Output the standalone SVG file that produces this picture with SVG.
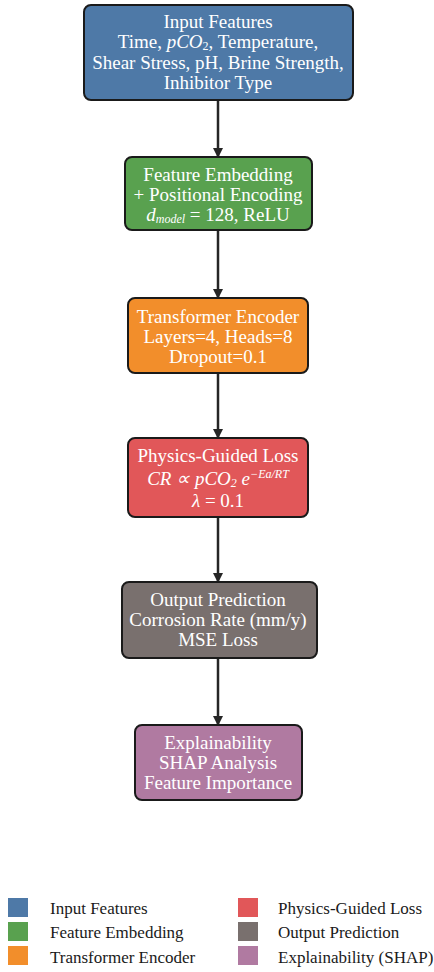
<svg xmlns="http://www.w3.org/2000/svg" width="434" height="972" viewBox="0 0 434 972">
<style>
.box{stroke:#1a1a1a;stroke-width:2}
.t{font-family:"Liberation Serif","Times New Roman",serif;font-size:19px;fill:#ffffff;text-anchor:middle}
.i{font-style:italic}
.lg{font-family:"Liberation Serif","Times New Roman",serif;font-size:17px;fill:#1a1a1a}
.conn{stroke:#262626;stroke-width:2.5;fill:none}
</style>
<defs>
<marker id="ah" viewBox="0 0 10 10" refX="9" refY="5" markerWidth="4" markerHeight="4" orient="auto" markerUnits="strokeWidth">
<path d="M0,0 L10,5 L0,10 Z" fill="#262626"/>
</marker>
</defs>
<rect width="434" height="972" fill="#ffffff"/>
<g id="connectors">
<line class="conn" x1="218" y1="100" x2="218" y2="157" marker-end="url(#ah)"/>
<line class="conn" x1="218" y1="230" x2="218" y2="298" marker-end="url(#ah)"/>
<line class="conn" x1="218" y1="373" x2="218" y2="438" marker-end="url(#ah)"/>
<line class="conn" x1="218" y1="517" x2="218" y2="582" marker-end="url(#ah)"/>
<line class="conn" x1="218" y1="658" x2="218" y2="725" marker-end="url(#ah)"/>
</g>
<g id="input">
<rect class="box" x="84" y="5" width="269" height="95" rx="7" fill="#4e79a7"/>
<text class="t" x="218" y="28">Input Features</text>
<text class="t" x="218" y="48">Time, <tspan class="i">pCO</tspan><tspan font-size="12" dy="2">2</tspan><tspan dy="-2">, Temperature,</tspan></text>
<text class="t" x="218" y="69">Shear Stress, pH, Brine Strength,</text>
<text class="t" x="218" y="89">Inhibitor Type</text>
</g>
<g id="embedding">
<rect class="box" x="125" y="157" width="187" height="73" rx="7" fill="#59a14f"/>
<text class="t" x="218" y="181">Feature Embedding</text>
<text class="t" x="218" y="201">+ Positional Encoding</text>
<text class="t" x="218" y="221"><tspan class="i">d</tspan><tspan class="i" font-size="12" dy="2">model</tspan><tspan dy="-2"> = 128, ReLU</tspan></text>
</g>
<g id="transformer">
<rect class="box" x="128" y="298" width="180" height="75" rx="7" fill="#f28e2b"/>
<text class="t" x="218" y="323">Transformer Encoder</text>
<text class="t" x="218" y="343">Layers=4, Heads=8</text>
<text class="t" x="218" y="363">Dropout=0.1</text>
</g>
<g id="physics">
<rect class="box" x="128" y="438" width="180" height="79" rx="7" fill="#e15759"/>
<text class="t" x="218" y="462">Physics-Guided Loss</text>
<text class="t i" x="218" y="485">CR ∝ pCO<tspan font-size="12" dy="2">2</tspan><tspan dy="-2"> e</tspan><tspan font-size="12" dy="-7">−Ea/RT</tspan></text>
<text class="t" x="218" y="507"><tspan class="i">λ</tspan> = 0.1</text>
</g>
<g id="output">
<rect class="box" x="122" y="582" width="195" height="76" rx="7" fill="#79706e"/>
<text class="t" x="218" y="606">Output Prediction</text>
<text class="t" x="218" y="626">Corrosion Rate (mm/y)</text>
<text class="t" x="218" y="646">MSE Loss</text>
</g>
<g id="explain">
<rect class="box" x="135" y="725" width="167" height="75" rx="7" fill="#b07aa1"/>
<text class="t" x="218" y="749">Explainability</text>
<text class="t" x="218" y="769">SHAP Analysis</text>
<text class="t" x="218" y="789">Feature Importance</text>
</g>
<g id="legend">
<rect x="8" y="898" width="20" height="19" fill="#4e79a7"/>
<text class="lg" x="50" y="914">Input Features</text>
<rect x="8" y="922" width="20" height="19" fill="#59a14f"/>
<text class="lg" x="50" y="938">Feature Embedding</text>
<rect x="8" y="946" width="20" height="19" fill="#f28e2b"/>
<text class="lg" x="50" y="963">Transformer Encoder</text>
<rect x="238" y="898" width="20" height="19" fill="#e15759"/>
<text class="lg" x="278" y="914">Physics-Guided Loss</text>
<rect x="238" y="922" width="20" height="19" fill="#79706e"/>
<text class="lg" x="278" y="938">Output Prediction</text>
<rect x="238" y="946" width="20" height="19" fill="#b07aa1"/>
<text class="lg" x="278" y="963">Explainability (SHAP)</text>
</g>
</svg>
